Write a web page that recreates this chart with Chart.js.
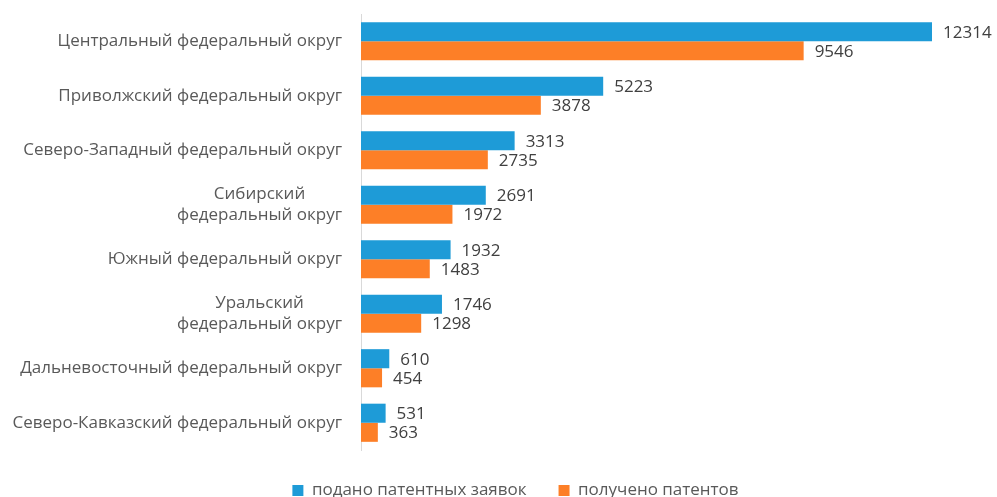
<!DOCTYPE html>
<html><head><meta charset="utf-8">
<script src="https://cdn.jsdelivr.net/npm/chart.js@4"></script>
<style>html,body{margin:0;padding:0;background:#fff}#wrap{width:997px;height:497px}</style>
</head><body><div id="wrap"><canvas id="c"></canvas></div>
<script>
const categories = [
  "Центральный федеральный округ",
  "Приволжский федеральный округ",
  "Северо-Западный федеральный округ",
  ["Сибирский", "федеральный округ"],
  "Южный федеральный округ",
  ["Уральский", "федеральный округ"],
  "Дальневосточный федеральный округ",
  "Северо-Кавказский федеральный округ"
];
const applications = [12314, 5223, 3313, 2691, 1932, 1746, 610, 531];
const patents = [9546, 3878, 2735, 1972, 1483, 1298, 454, 363];
const seriesNames = ["подано патентных заявок", "получено патентов"];

const FONT = '"Open Sans", sans-serif';

const valueLabels = {
  id: 'valueLabels',
  afterDatasetsDraw(chart) {
    const ctx = chart.ctx;
    ctx.save();
    ctx.font = '17px ' + FONT;
    ctx.fillStyle = '#404040';
    ctx.textBaseline = 'middle';
    ctx.textAlign = 'left';
    chart.data.datasets.forEach((ds, i) => {
      const meta = chart.getDatasetMeta(i);
      meta.data.forEach((bar, j) => {
        ctx.fillText(String(ds.data[j]), bar.x + 11, bar.y + 1);
      });
    });
    ctx.restore();
  }
};

const categoryLabels = {
  id: 'categoryLabels',
  afterDraw(chart) {
    const ctx = chart.ctx;
    const y = chart.scales.y;
    const right = chart.chartArea.left - 19;
    const lh = 21;
    ctx.save();
    ctx.font = '17px ' + FONT;
    ctx.fillStyle = '#595959';
    ctx.textBaseline = 'middle';
    ctx.textAlign = 'center';
    chart.data.labels.forEach((lab, i) => {
      const lines = Array.isArray(lab) ? lab : [lab];
      const w = Math.max(...lines.map(l => ctx.measureText(l).width));
      const cx = right - w / 2;
      const cy = y.getPixelForTick(i);
      lines.forEach((l, k) => {
        ctx.fillText(l, cx, cy + (k - (lines.length - 1) / 2) * lh);
      });
    });
    ctx.restore();
  }
};

const legendHeight = {
  id: 'legendHeight',
  afterInit(chart) {
    const lg = chart.legend;
    if (!lg) return;
    const f = lg.fit;
    lg.fit = function () { f.call(this); this.height = 47; };
  }
};

new Chart(document.getElementById('c'), {
  type: 'bar',
  data: {
    labels: categories,
    datasets: [
      { label: seriesNames[0], data: applications, backgroundColor: '#1E9BD7', categoryPercentage: 0.7, barPercentage: 1.0 },
      { label: seriesNames[1], data: patents, backgroundColor: '#FD7F27', categoryPercentage: 0.7, barPercentage: 1.0 }
    ]
  },
  options: {
    indexAxis: 'y',
    responsive: true,
    maintainAspectRatio: false,
    animation: false,
    layout: { padding: { top: 14, right: 10, left: 44, bottom: 0 } },
    plugins: {
      legend: {
        position: 'bottom',
        labels: { boxWidth: 11, boxHeight: 11, font: { size: 17, family: FONT }, color: '#595959', padding: 32 }
      },
      tooltip: { enabled: false }
    },
    scales: {
      x: { display: false, min: 0, max: 13500 },
      y: {
        grid: { display: false, drawTicks: false },
        border: { color: '#D9D9D9', width: 1 },
        ticks: { display: false },
        afterFit(s) { s.width = 317; }
      }
    }
  },
  plugins: [valueLabels, categoryLabels, legendHeight]
});
</script></body></html>
